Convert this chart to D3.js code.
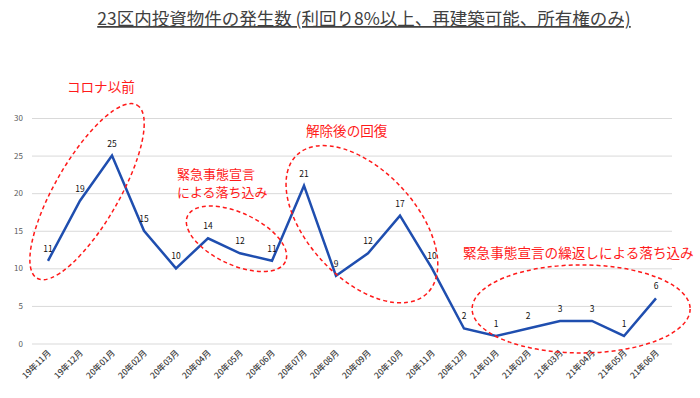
<!DOCTYPE html>
<html lang="ja">
<head>
  <meta charset="UTF-8">
  <title>23区内投資物件の発生数</title>
  <script src="https://d3js.org/d3.v7.min.js"></script>
  <style>
    body { margin: 0; background: #fff; }
    text { font-family: "Noto Sans CJK JP", "Noto Sans", sans-serif; }
  </style>
</head>
<body>
  <svg id="chart" width="700" height="398"></svg>

  <script>
    // Data
    const months = ["19年11月", "19年12月", "20年01月", "20年02月", "20年03月", "20年04月",
                    "20年05月", "20年06月", "20年07月", "20年08月", "20年09月", "20年10月",
                    "20年11月", "20年12月", "21年01月", "21年02月", "21年03月", "21年04月",
                    "21年05月", "21年06月"];
    const counts = [11, 19, 25, 15, 10, 14, 12, 11, 21, 9, 12, 17, 10, 2, 1, 2, 3, 3, 1, 6];
    const yTicks = [0, 5, 10, 15, 20, 25, 30];

    // annotation text and ellipses, anchored in (month index, value) units
    const noteLabels = [
      { lines: ["コロナ以前"], i: 0.59, v: 33.5 },
      { lines: ["緊急事態宣言", "による落ち込み"], i: 4.03, v: 21.95 },
      { lines: ["解除後の回復"], i: 8.06, v: 27.67 },
      { lines: ["緊急事態宣言の繰返しによる落ち込み"], i: 12.97, v: 11.4 }
    ];
    const noteRings = [
      { i: 1.22, v: 20.2, rx: 100, ry: 32, angle: -60 },
      { i: 5.89, v: 13.93, rx: 54, ry: 26, angle: 25 },
      { i: 9.81, v: 15.87, rx: 95, ry: 54, angle: 47 },
      { i: 16.66, v: 4.6, rx: 109, ry: 44, angle: 0 }
    ];

    const width = 700, height = 398;
    const margin = { top: 118, right: 28, bottom: 54.5, left: 32 };

    const svg = d3.select("#chart");

    const x = d3.scalePoint()
      .domain(months)
      .range([margin.left, width - margin.right])
      .padding(0.5);

    // fractional month positions for the annotations
    const xi = d3.scaleLinear()
      .domain([0, months.length - 1])
      .range([x(months[0]), x(months[months.length - 1])]);

    const y = d3.scaleLinear()
      .domain([0, 30])
      .range([height - margin.bottom, margin.top]);

    // gridlines + y labels
    const yAxis = svg.append("g")
      .attr("transform", `translate(${margin.left},0)`)
      .call(d3.axisLeft(y).tickValues(yTicks).tickSize(-(width - margin.left - margin.right)).tickPadding(9));
    yAxis.select(".domain").remove();
    yAxis.selectAll(".tick line").attr("stroke", "#d9d9d9");
    yAxis.selectAll(".tick text")
      .attr("fill", "#595959")
      .style("font-size", "8px");

    // x labels, rotated
    const xAxis = svg.append("g")
      .attr("transform", `translate(0,${height - margin.bottom})`)
      .call(d3.axisBottom(x).tickSize(0));
    xAxis.select(".domain").remove();
    xAxis.selectAll(".tick text")
      .attr("fill", "#404040")
      .style("font-size", "8.5px")
      .style("font-weight", "500")
      .attr("text-anchor", "end")
      .attr("dy", 0)
      .attr("y", 0)
      .attr("transform", "translate(3,10) rotate(-45)");

    // the line
    const line = d3.line()
      .x((d, i) => x(months[i]))
      .y(d => y(d));

    svg.append("path")
      .datum(counts)
      .attr("fill", "none")
      .attr("stroke", "#1f4eaf")
      .attr("stroke-width", 2.5)
      .attr("d", line);

    // value labels
    svg.append("g")
      .selectAll("text")
      .data(counts)
      .join("text")
      .attr("x", (d, i) => x(months[i]))
      .attr("y", d => y(d) - 9)
      .attr("text-anchor", "middle")
      .attr("fill", "#111")
      .style("font-size", "8.5px")
      .text(d => d);

    // dashed ellipses
    svg.append("g")
      .selectAll("ellipse")
      .data(noteRings)
      .join("ellipse")
      .attr("transform", d => `translate(${xi(d.i)},${y(d.v)}) rotate(${d.angle})`)
      .attr("rx", d => d.rx)
      .attr("ry", d => d.ry)
      .attr("fill", "none")
      .attr("stroke", "#ff1a1a")
      .attr("stroke-width", 1.5)
      .attr("stroke-dasharray", "4,3");

    // annotation text, one text element per line
    const noteLines = noteLabels.flatMap(d =>
      d.lines.map((t, k) => ({ t, i: d.i, v: d.v, k, n: d.lines.length })));

    svg.append("g")
      .selectAll("text")
      .data(noteLines)
      .join("text")
      .attr("x", d => xi(d.i))
      .attr("y", d => y(d.v) + d.k * 18.5)
      .attr("fill", "#ff1a1a")
      .style("font-size", d => d.n > 1 ? "13px" : "13.6px")
      .text(d => d.t);

    // title
    svg.append("text")
      .attr("x", 364)
      .attr("y", 25)
      .attr("text-anchor", "middle")
      .attr("fill", "#404040")
      .style("font-size", "17.5px")
      .style("text-decoration", "underline")
      .text("23区内投資物件の発生数 (利回り8%以上、再建築可能、所有権のみ)");
  </script>
</body>
</html>
